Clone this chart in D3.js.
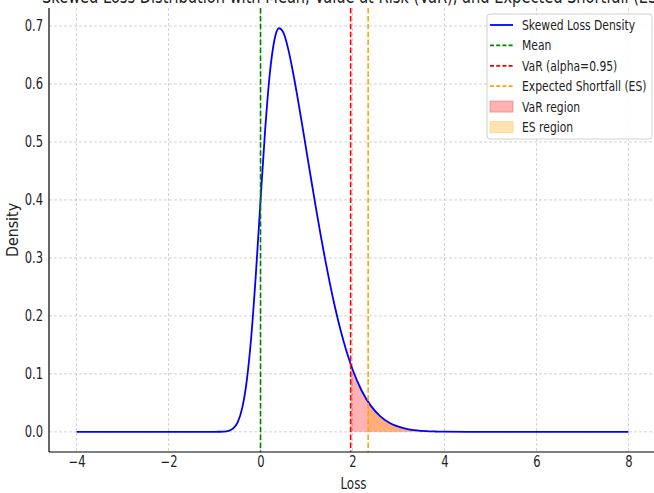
<!DOCTYPE html>
<html>
<head>
<meta charset="utf-8">
<script src="https://cdn.jsdelivr.net/npm/d3@7"></script>
<style>
  body { margin: 0; background: #fff; }
  svg { display: block; font-family: "DejaVu Sans", sans-serif; }
</style>
</head>
<body>
<svg id="chart" width="654" height="493"></svg>
<script>
const width = 654;
const height = 493;
const squeeze = 0.77;

// loss values and density
const lossX = [-4, -3, -2, -1.5, -1.0, -0.9, -0.8, -0.7, -0.6, -0.5, -0.4, -0.3, -0.2, -0.1,
  0, 0.1, 0.2, 0.3, 0.4, 0.5, 0.6, 0.7, 0.8, 0.9, 1.0, 1.1, 1.2, 1.3, 1.4, 1.5, 1.6, 1.7,
  1.8, 1.9, 2.0, 2.2, 2.4, 2.6, 2.8, 3.0, 3.2, 3.4, 3.6, 3.8, 4.0, 4.5, 5, 6, 7, 8];
const density = [0, 0, 0, 0, 0.0000, 0.0001, 0.0004, 0.0016, 0.0055, 0.0160, 0.0404, 0.0878, 0.1657, 0.2736,
  0.3989, 0.5203, 0.6164, 0.6750, 0.6962, 0.6881, 0.6610, 0.6229, 0.5790, 0.5321, 0.4839, 0.4357, 0.3884, 0.3427, 0.2995, 0.2590, 0.2218, 0.1881,
  0.1579, 0.1312, 0.1080, 0.0709, 0.0448, 0.0272, 0.0158, 0.0089, 0.0048, 0.0025, 0.0012, 0.0006, 0.0003, 0.0000, 0, 0, 0, 0];

const meanLoss = 0;
const varLoss = 1.96;
const esLoss = 2.34;

const xTicks = [-4, -2, 0, 2, 4, 6, 8];
const yTicks = [0, 0.1, 0.2, 0.3, 0.4, 0.5, 0.6, 0.7];

const points = lossX.map((x, i) => ({ x: x, y: density[i] }));

const plotLeft = 49, plotRight = 656, plotTop = 8, plotBottom = 452;

const x = d3.scaleLinear().domain([-4.6, 8.6]).range([plotLeft, plotRight]);
const y = d3.scaleLinear().domain([-0.0348, 0.7311]).range([plotBottom, plotTop]);

const svg = d3.select("#chart");

// grid
svg.append("g")
  .selectAll("line")
  .data(xTicks)
  .join("line")
  .attr("x1", d => x(d)).attr("x2", d => x(d))
  .attr("y1", plotTop).attr("y2", plotBottom)
  .attr("stroke", "#b0b0b0").attr("stroke-width", 0.8)
  .attr("stroke-dasharray", "3,2").attr("opacity", 0.7);

svg.append("g")
  .selectAll("line")
  .data(yTicks)
  .join("line")
  .attr("x1", plotLeft).attr("x2", plotRight)
  .attr("y1", d => y(d)).attr("y2", d => y(d))
  .attr("stroke", "#b0b0b0").attr("stroke-width", 0.8)
  .attr("stroke-dasharray", "3,2").attr("opacity", 0.7);

// tail areas
svg.append("clipPath").attr("id", "varClip")
  .append("rect")
  .attr("x", x(varLoss)).attr("y", plotTop)
  .attr("width", plotRight - x(varLoss)).attr("height", plotBottom - plotTop);

svg.append("clipPath").attr("id", "esClip")
  .append("rect")
  .attr("x", x(esLoss)).attr("y", plotTop)
  .attr("width", plotRight - x(esLoss)).attr("height", plotBottom - plotTop);

const area = d3.area()
  .x(d => x(d.x))
  .y0(y(0))
  .y1(d => y(d.y))
  .curve(d3.curveMonotoneX);

svg.append("path")
  .datum(points)
  .attr("d", area)
  .attr("fill", "red").attr("fill-opacity", 0.3)
  .attr("clip-path", "url(#varClip)");

svg.append("path")
  .datum(points)
  .attr("d", area)
  .attr("fill", "orange").attr("fill-opacity", 0.3)
  .attr("clip-path", "url(#esClip)");

// density curve
const line = d3.line()
  .x(d => x(d.x))
  .y(d => y(d.y))
  .curve(d3.curveMonotoneX);

svg.append("path")
  .datum(points)
  .attr("d", line)
  .attr("fill", "none")
  .attr("stroke", "blue")
  .attr("stroke-width", 1.8);

// vertical markers
const markers = [
  { v: meanLoss, color: "green" },
  { v: varLoss, color: "red" },
  { v: esLoss, color: "orange" }
];

svg.append("g")
  .selectAll("line")
  .data(markers)
  .join("line")
  .attr("x1", d => x(d.v)).attr("x2", d => x(d.v))
  .attr("y1", plotTop).attr("y2", plotBottom)
  .attr("stroke", d => d.color)
  .attr("stroke-width", 1.6)
  .attr("stroke-dasharray", "5.5,2.4");

// axes
const xAxis = svg.append("g")
  .attr("transform", `translate(0, ${plotBottom})`)
  .call(d3.axisBottom(x).tickValues(xTicks).tickFormat(d3.format("d")).tickSize(0).tickPadding(4));

const yAxis = svg.append("g")
  .attr("transform", `translate(${plotLeft}, 0)`)
  .call(d3.axisLeft(y).tickValues(yTicks).tickFormat(d3.format(".1f")).tickSize(0).tickPadding(6));

xAxis.select(".domain").attr("d", `M${plotLeft},0H${plotRight}`).attr("stroke", "#000").attr("stroke-width", 1.2);
yAxis.select(".domain").attr("d", `M0,${plotTop}V${plotBottom}`).attr("stroke", "#000").attr("stroke-width", 1.2);

xAxis.selectAll("text")
  .attr("font-size", 15).attr("fill", "#222")
  .attr("font-family", "DejaVu Sans")
  .attr("transform", `scale(${squeeze},1)`);

yAxis.selectAll("text")
  .attr("font-size", 15).attr("fill", "#222")
  .attr("font-family", "DejaVu Sans")
  .attr("x", -6 / squeeze)
  .attr("transform", `scale(${squeeze},1)`);

// labels
svg.append("text")
  .attr("transform", `translate(${(plotLeft + plotRight) / 2 + 1}, 489) scale(${squeeze},1)`)
  .attr("text-anchor", "middle")
  .attr("font-size", 15.5).attr("fill", "#222")
  .text("Loss");

svg.append("text")
  .attr("transform", `translate(18, ${(plotTop + plotBottom) / 2}) rotate(-90) scale(0.95,1)`)
  .attr("text-anchor", "middle")
  .attr("font-size", 15).attr("fill", "#222")
  .text("Density");

svg.append("text")
  .attr("transform", `translate(${(plotLeft + plotRight) / 2}, 3) scale(${squeeze},1)`)
  .attr("text-anchor", "middle")
  .attr("font-size", 19).attr("fill", "#222")
  .text("Skewed Loss Distribution with Mean, Value at Risk (VaR), and Expected Shortfall (ES)");

// legend
const legendItems = [
  { label: "Skewed Loss Density", type: "line", color: "blue", dash: null },
  { label: "Mean", type: "line", color: "green", dash: "5.5,2.4" },
  { label: "VaR (alpha=0.95)", type: "line", color: "red", dash: "5.5,2.4" },
  { label: "Expected Shortfall (ES)", type: "line", color: "orange", dash: "5.5,2.4" },
  { label: "VaR region", type: "patch", color: "red" },
  { label: "ES region", type: "patch", color: "orange" }
];

const legend = svg.append("g");

legend.append("rect")
  .attr("x", 487).attr("y", 14)
  .attr("width", 165).attr("height", 125)
  .attr("rx", 3)
  .attr("fill", "#fff").attr("fill-opacity", 0.85)
  .attr("stroke", "#d0d0d0");

const rows = legend.selectAll("g")
  .data(legendItems)
  .join("g")
  .attr("transform", (d, i) => `translate(490, ${25 + i * 20.4})`);

rows.filter(d => d.type === "line")
  .append("line")
  .attr("x1", 0).attr("x2", 23)
  .attr("stroke", d => d.color)
  .attr("stroke-width", 1.8)
  .attr("stroke-dasharray", d => d.dash ? "4,2.2" : null);

rows.filter(d => d.type === "patch")
  .append("rect")
  .attr("x", 0).attr("y", -5.5)
  .attr("width", 23).attr("height", 11)
  .attr("fill", d => d.color).attr("fill-opacity", 0.3)
  .attr("stroke", d => d.color).attr("stroke-opacity", 0.3);

rows.append("text")
  .attr("transform", `translate(32, 5) scale(${squeeze},1)`)
  .attr("font-size", 14).attr("fill", "#222")
  .text(d => d.label);
</script>
</body>
</html>
